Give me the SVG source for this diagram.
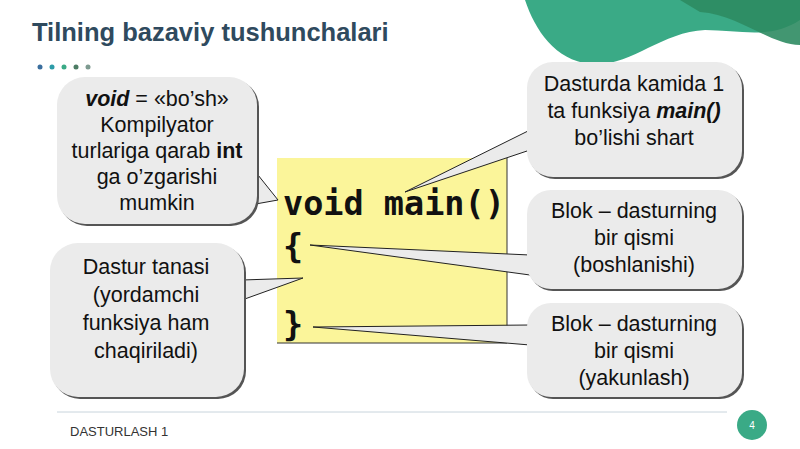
<svg xmlns="http://www.w3.org/2000/svg" width="800" height="449" viewBox="0 0 800 449">
<style>
.t{font-family:"Liberation Sans",Arial,sans-serif;font-size:21.5px;fill:#111;text-anchor:middle}
.code{font-family:"DejaVu Sans Mono","Liberation Mono",monospace;font-weight:bold;font-size:33.5px;fill:#111}
.bub{fill:#ebebeb}
.sh{fill:#555}
.ptr{fill:#ebebeb;stroke:#222;stroke-width:1}
</style>
<rect width="800" height="449" fill="#fff"/>
<path d="M525 0 H800 V20 C770 40 740 30 705 30 C660 32 630 68 590 64 C555 60 535 30 525 0 Z" fill="#3aaa86"/>
<path d="M680 0 H800 V45 C770 45 740 15 700 12 Z" fill="#2e8b62" opacity="0.9"/>
<text x="32" y="41" font-family="Liberation Sans,Arial,sans-serif" font-weight="bold" font-size="25.5" fill="#2f4a5e">Tilning bazaviy tushunchalari</text>
<g><circle cx="40" cy="67" r="2.5" fill="#3a6e9e"/><circle cx="52" cy="67" r="2.5" fill="#2d9ca8"/><circle cx="64" cy="67" r="2.5" fill="#3aaa86"/><circle cx="76" cy="67" r="2.5" fill="#4d7c64"/><circle cx="88" cy="67" r="2.5" fill="#7d9a90"/></g>
<g id="code"><rect x="277" y="158" width="230" height="185" fill="#fbf59a"/>
<line x1="507" y1="158" x2="507" y2="343" stroke="#333" stroke-width="1"/>
<line x1="277" y1="343" x2="507" y2="343" stroke="#333" stroke-width="1"/>
<text x="283" y="215" class="code">void main()</text>
<text x="283" y="258" class="code">{</text>
<text x="283" y="336" class="code">}</text></g>
<g id="connectors">
<polygon class="ptr" points="250,165 278,200 250,205"/>
<polygon class="ptr" points="242,280 303,278 242,300"/>
<polygon class="ptr" points="530,130 405,192 530,150"/>
<polygon class="ptr" points="530,255 310,245 530,275"/>
<polygon class="ptr" points="530,325 313,327 530,345"/>
</g>
<g id="n1"><rect class="sh" x="59" y="79" width="200" height="147" rx="28"/><rect class="bub" x="57" y="77" width="200" height="147" rx="28"/>
<text class="t" x="157" y="106"><tspan font-weight="bold" font-style="italic">void</tspan> = «bo’sh»</text>
<text class="t" x="157" y="132">Kompilyator</text>
<text class="t" x="157" y="158">turlariga qarab <tspan font-weight="bold">int</tspan></text>
<text class="t" x="157" y="184">ga o’zgarishi</text>
<text class="t" x="157" y="210">mumkin</text></g>
<g id="n2"><rect class="sh" x="52" y="245" width="194" height="154" rx="28"/><rect class="bub" x="50" y="243" width="194" height="154" rx="28"/>
<text class="t" x="146" y="274">Dastur tanasi</text>
<text class="t" x="146" y="302">(yordamchi</text>
<text class="t" x="146" y="330">funksiya ham</text>
<text class="t" x="146" y="358">chaqiriladi)</text></g>
<g id="n3"><rect class="sh" x="529" y="64" width="215" height="115" rx="26"/><rect class="bub" x="527" y="62" width="215" height="115" rx="26"/>
<text class="t" x="634" y="91">Dasturda kamida 1</text>
<text class="t" x="634" y="118">ta funksiya <tspan font-weight="bold" font-style="italic">main()</tspan></text>
<text class="t" x="634" y="145">bo’lishi shart</text></g>
<g id="n4"><rect class="sh" x="529" y="192" width="215" height="99" rx="24"/><rect class="bub" x="527" y="190" width="215" height="99" rx="24"/>
<text class="t" x="634" y="218">Blok – dasturning</text>
<text class="t" x="634" y="245">bir qismi</text>
<text class="t" x="634" y="272">(boshlanishi)</text></g>
<g id="n5"><rect class="sh" x="529" y="305" width="215" height="94" rx="24"/><rect class="bub" x="527" y="303" width="215" height="94" rx="24"/>
<text class="t" x="634" y="331">Blok – dasturning</text>
<text class="t" x="634" y="358">bir qismi</text>
<text class="t" x="634" y="385">(yakunlash)</text></g>
<line x1="57" y1="412" x2="727" y2="412" stroke="#c8d4dc" stroke-width="1"/>
<text x="70" y="436" font-family="Liberation Sans,Arial,sans-serif" font-size="13" fill="#333">DASTURLASH 1</text>
<circle cx="752" cy="425" r="15" fill="#3aaa86"/>
<text x="752" y="429" font-family="Liberation Sans,Arial,sans-serif" font-size="10" fill="#fff" text-anchor="middle">4</text>
</svg>
